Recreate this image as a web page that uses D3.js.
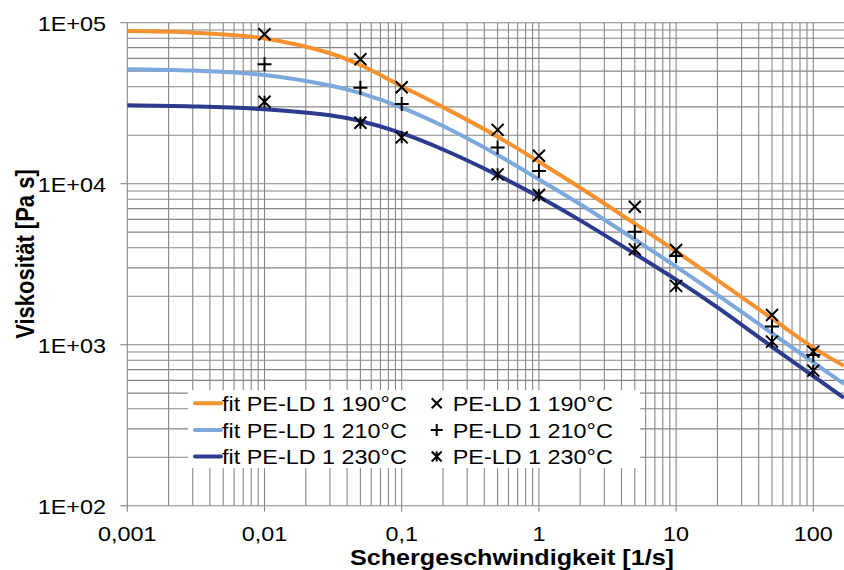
<!DOCTYPE html>
<meta charset="utf-8">
<title>Viskosität PE-LD 1</title>
<style>
body { margin: 0; background: #fff; }
svg { display: block; font-family: "Liberation Sans", Arial, sans-serif; }
</style>
<body>
<script src="https://cdnjs.cloudflare.com/ajax/libs/d3/7.8.5/d3.min.js"></script>
<script>

// fit curves
var fitRates = [0.001, 0.003, 0.01, 0.03, 0.05, 0.1, 0.2, 0.5, 1, 2, 5, 10, 20, 50, 100, 167];
var fit190 = [88700, 86700, 79800, 64600, 54600, 40300, 29900, 19600, 13700, 9440, 5650, 3800, 2520, 1455, 960, 740];
var fit210 = [51400, 50400, 47300, 40700, 36500, 29700, 22800, 15100, 10640, 7450, 4500, 3055, 2040, 1178, 776, 571];
var fit230 = [30700, 30200, 29000, 26600, 24500, 20600, 16300, 11300, 8300, 5920, 3670, 2535, 1706, 970, 637, 468];

// measured points
var rates = [0.01, 0.05, 0.1, 0.5, 1, 5, 10, 50, 100];
var meas190 = [84700, 59300, 39700, 21600, 14900, 7200, 3870, 1530, 906];
var meas210 = [55200, 39400, 31300, 16800, 12000, 5030, 3560, 1295, 863];
var meas230 = [32300, 23900, 19400, 11430, 8510, 3910, 2320, 1045, 690];

var fitNames = ["fit PE-LD 1 190°C", "fit PE-LD 1 210°C", "fit PE-LD 1 230°C"];
var measNames = ["PE-LD 1 190°C", "PE-LD 1 210°C", "PE-LD 1 230°C"];
var colors = ["#f5922f", "#7ca8dc", "#2c3b8d"];
var markers = ["x", "plus", "star"];

var xTicks = [0.001, 0.01, 0.1, 1, 10, 100];
var xTickLabels = ["0,001", "0,01", "0,1", "1", "10", "100"];
var yTicks = [100, 1000, 10000, 100000];
var yTickLabels = ["1E+02", "1E+03", "1E+04", "1E+05"];

var width = 844, height = 570;
var SX = 1.17; // the picture is stretched sideways

var x = d3.scaleLog().domain([0.001, 167.4]).range([127.3, 844]);
var y = d3.scaleLog().domain([100, 100000]).range([505.7, 22.7]);

var svg = d3.select("body").append("svg")
    .attr("width", width)
    .attr("height", height);

function txt(parent, px, py, s, o) {
  o = o || {};
  var g = parent.append("g")
      .attr("transform", "translate(" + px + "," + py + ") scale(" + SX + ",1)" + (o.rotate ? " rotate(" + o.rotate + ")" : ""));
  g.append("text")
      .attr("text-anchor", o.anchor || "start")
      .attr("font-size", (o.size || 20) + "px")
      .attr("font-weight", o.weight || "normal")
      .attr("fill", "#000")
      .text(s);
  return g;
}

// grid
var grid = svg.append("g").attr("stroke", "#868686").attr("stroke-width", 1.1);
grid.selectAll(".gx")
    .data(x.ticks())
  .enter().append("line")
    .attr("x1", d => x(d)).attr("x2", d => x(d))
    .attr("y1", y(100000)).attr("y2", y(100));
grid.selectAll(".gy")
    .data(y.ticks())
  .enter().append("line")
    .attr("x1", x(0.001)).attr("x2", width)
    .attr("y1", d => y(d)).attr("y2", d => y(d));

// ticks
grid.selectAll(".tx")
    .data(xTicks)
  .enter().append("line")
    .attr("x1", d => x(d)).attr("x2", d => x(d))
    .attr("y1", y(100)).attr("y2", y(100) + 6);
grid.selectAll(".ty")
    .data(yTicks)
  .enter().append("line")
    .attr("x1", x(0.001) - 7).attr("x2", x(0.001))
    .attr("y1", d => y(d)).attr("y2", d => y(d));

// tick labels
xTicks.forEach(function(d, i) {
  txt(svg, x(d), 541, xTickLabels[i], {anchor: "middle"});
});
yTicks.forEach(function(d, i) {
  txt(svg, 106, y(d) + 8, yTickLabels[i], {anchor: "end"});
});

// axis titles
txt(svg, 512, 565, "Schergeschwindigkeit [1/s]", {anchor: "middle", weight: "bold", size: 21.5});
txt(svg, 34, 254, "Viskosität [Pa s]", {anchor: "middle", weight: "bold", size: 22, rotate: -90});

// curves
var line = d3.line()
    .x(d => x(d[0]))
    .y(d => y(d[1]))
    .curve(d3.curveCatmullRom.alpha(0.5));

var plot = svg.append("g");
[fit190, fit210, fit230].forEach(function(vals, i) {
  plot.append("path")
      .datum(fitRates.map((r, j) => [r, vals[j]]))
      .attr("fill", "none")
      .attr("stroke", colors[i])
      .attr("stroke-width", 4)
      .attr("d", line);
});

function markerPath(type, s) {
  var p = "M" + (-s) + "," + (-s) + "L" + s + "," + s + "M" + (-s) + "," + s + "L" + s + "," + (-s);
  if (type === "plus") p = "M" + (-s - 1) + ",0H" + (s + 1) + "M0," + (-s - 1) + "V" + (s + 1);
  if (type === "star") p += "M0," + (-s) + "V" + s;
  return p;
}

[meas190, meas210, meas230].forEach(function(vals, i) {
  plot.selectAll(".m" + i)
      .data(rates.map((r, j) => [r, vals[j]]))
    .enter().append("path")
      .attr("transform", d => "translate(" + x(d[0]) + "," + y(d[1]) + ")")
      .attr("d", markerPath(markers[i], 6))
      .attr("fill", "none")
      .attr("stroke", "#000")
      .attr("stroke-width", 2);
});

// legend
var legend = svg.append("g");
legend.append("rect")
    .attr("x", 188).attr("y", 390)
    .attr("width", 452).attr("height", 78)
    .attr("fill", "#fff");
var rowY = [403.3, 430, 456.5];
rowY.forEach(function(ry, i) {
  legend.append("line")
      .attr("x1", 195).attr("x2", 221)
      .attr("y1", ry).attr("y2", ry)
      .attr("stroke", colors[i])
      .attr("stroke-width", 4)
      .attr("stroke-linecap", "round");
  txt(legend, 222, ry + 7.5, fitNames[i]);
  legend.append("path")
      .attr("transform", "translate(436.7," + ry + ")")
      .attr("d", markerPath(markers[i], 5))
      .attr("fill", "none")
      .attr("stroke", "#000")
      .attr("stroke-width", 2);
  txt(legend, 452.7, ry + 7.5, measNames[i]);
});

</script>
